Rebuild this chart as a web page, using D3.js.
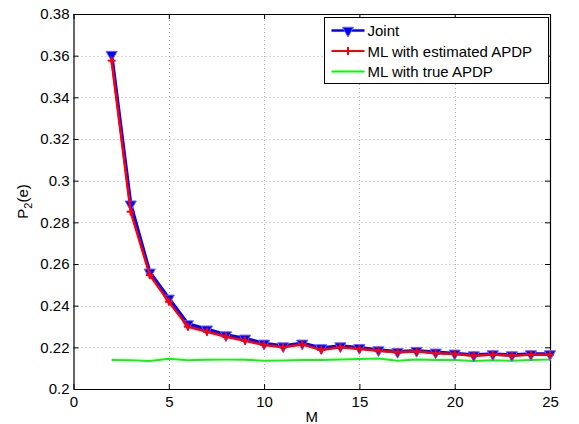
<!DOCTYPE html>
<html>
<head>
<meta charset="utf-8">
<script src="https://cdn.jsdelivr.net/npm/d3@7"></script>
<style>
  body { margin: 0; background: #fff; }
  text { font-family: "Liberation Sans", Arial, sans-serif; }
</style>
</head>
<body>
<div id="chart"></div>
<script>
// chart data
var mValues   = [2, 3, 4, 5, 6, 7, 8, 9, 10, 11, 12, 13, 14, 15, 16, 17, 18, 19, 20, 21, 22, 23, 24, 25];
var jointVals = [0.3605, 0.2887, 0.2560, 0.2435, 0.2312, 0.2287, 0.2259, 0.2243, 0.2219, 0.2206, 0.2219, 0.2197,
                 0.2206, 0.2198, 0.2187, 0.2179, 0.2184, 0.2176, 0.2171, 0.2163, 0.2168, 0.2163, 0.2168, 0.2168];
var mlEstVals = [0.3576, 0.2851, 0.2547, 0.2419, 0.2299, 0.2275, 0.2251, 0.2232, 0.2211, 0.2200, 0.2214, 0.2187,
                 0.2200, 0.2192, 0.2184, 0.2176, 0.2180, 0.2172, 0.2168, 0.2160, 0.2165, 0.2160, 0.2165, 0.2165];
var mlTrueVals = [0.2139, 0.2138, 0.2134, 0.2145, 0.2138, 0.2140, 0.2141, 0.2140, 0.2136, 0.2137, 0.2139, 0.2139,
                  0.2142, 0.2144, 0.2146, 0.2136, 0.2141, 0.2139, 0.2139, 0.2134, 0.2138, 0.2136, 0.2139, 0.2141];
var xTicks = [0, 5, 10, 15, 20, 25];
var yTicks = [0.2, 0.22, 0.24, 0.26, 0.28, 0.3, 0.32, 0.34, 0.36, 0.38];
var legendNames = ["Joint", "ML with estimated APDP", "ML with true APDP"];

var W = 579, H = 424,
    margin = {left: 73.5, right: 29, top: 14, bottom: 35},
    fontSize = 15;

var svg = d3.select("#chart").append("svg")
    .attr("width", W).attr("height", H);

var x = d3.scaleLinear().domain([0, 25]).range([margin.left, W - margin.right]);
var y = d3.scaleLinear().domain([0.2, 0.38]).range([H - margin.bottom, margin.top]);

var x0 = x.range()[0], x1 = x.range()[1], y0 = y.range()[0], y1 = y.range()[1];

// grid (dotted, MATLAB style)
var grid = svg.append("g").attr("stroke", "#b0b0b0").attr("stroke-width", 1)
    .attr("stroke-dasharray", "1,3");
grid.selectAll(".gx").data(xTicks.slice(1, -1)).enter().append("line")
    .attr("x1", function(d){ return Math.round(x(d)) + 0.5; })
    .attr("x2", function(d){ return Math.round(x(d)) + 0.5; })
    .attr("y1", y0).attr("y2", y1);
grid.selectAll(".gy").data(yTicks.slice(1, -1)).enter().append("line")
    .attr("y1", function(d){ return Math.round(y(d)) + 0.5; })
    .attr("y2", function(d){ return Math.round(y(d)) + 0.5; })
    .attr("x1", x0).attr("x2", x1);

// axes, ticks pointing inward on all four sides
var fmtY = function(d){ return d3.format("")(+d.toFixed(2)); };
svg.append("g").attr("transform", "translate(0," + y0 + ")")
    .call(d3.axisBottom(x).tickValues(xTicks).tickSizeInner(-5).tickSizeOuter(0).tickPadding(7));
svg.append("g").attr("transform", "translate(0," + y1 + ")")
    .call(d3.axisTop(x).tickValues(xTicks).tickSizeInner(-5).tickSizeOuter(0).tickFormat(""));
svg.append("g").attr("transform", "translate(" + x0 + ",0)")
    .call(d3.axisLeft(y).tickValues(yTicks).tickSizeInner(-5).tickSizeOuter(0).tickPadding(4).tickFormat(fmtY));
svg.append("g").attr("transform", "translate(" + x1 + ",0)")
    .call(d3.axisRight(y).tickValues(yTicks).tickSizeInner(-5).tickSizeOuter(0).tickFormat(""));

svg.selectAll(".tick text").attr("font-size", fontSize).attr("fill", "#000")
    .style("font-family", "'Liberation Sans', Arial, sans-serif");
svg.selectAll(".domain").attr("stroke", "#000").attr("stroke-width", 1.2);
svg.selectAll(".tick line").attr("stroke", "#000");

// axis labels
svg.append("text").attr("x", (x0 + x1) / 2).attr("y", H - 2)
    .attr("text-anchor", "middle").attr("font-size", fontSize).text("M");
var yl = svg.append("text").attr("transform", "translate(28," + ((y0 + y1) / 2) + ") rotate(-90)")
    .attr("text-anchor", "middle").attr("font-size", fontSize);
yl.append("tspan").text("P");
yl.append("tspan").attr("font-size", 11).attr("dy", 4).text("2");
yl.append("tspan").attr("dy", -4).text("(e)");

// series
var line = d3.line().x(function(d){ return x(d[0]); }).y(function(d){ return y(d[1]); });
var joint = d3.zip(mValues, jointVals),
    mlEst = d3.zip(mValues, mlEstVals),
    mlTrue = d3.zip(mValues, mlTrueVals);

var tri = d3.symbol().type(d3.symbolTriangle).size(55);

svg.append("path").datum(mlTrue).attr("d", line)
    .attr("fill", "none").attr("stroke", "#00ff00").attr("stroke-width", 2);

svg.append("path").datum(joint).attr("d", line)
    .attr("fill", "none").attr("stroke", "#0000ff").attr("stroke-width", 3.5);
svg.selectAll(".tri").data(joint).enter().append("path")
    .attr("d", tri)
    .attr("transform", function(d){ return "translate(" + x(d[0]) + "," + y(d[1]) + ") rotate(180)"; })
    .attr("fill", "#0000ff").attr("stroke", "#6a6aff").attr("stroke-width", 1);

svg.append("path").datum(mlEst).attr("d", line)
    .attr("fill", "none").attr("stroke", "#ff0000").attr("stroke-width", 2.5);
var plus = svg.append("g").attr("stroke", "#ff0000").attr("stroke-width", 2);
plus.selectAll(".ph").data(mlEst).enter().append("line")
    .attr("x1", function(d){ return x(d[0]) - 4; }).attr("x2", function(d){ return x(d[0]) + 4; })
    .attr("y1", function(d){ return y(d[1]); }).attr("y2", function(d){ return y(d[1]); });
plus.selectAll(".pv").data(mlEst).enter().append("line")
    .attr("x1", function(d){ return x(d[0]); }).attr("x2", function(d){ return x(d[0]); })
    .attr("y1", function(d){ return y(d[1]) - 4; }).attr("y2", function(d){ return y(d[1]) + 4; });

// legend
var lg = svg.append("g").attr("transform", "translate(324.5,17.5)");
lg.append("rect").attr("width", 224).attr("height", 66)
    .attr("fill", "#fff").attr("stroke", "#000").attr("stroke-width", 1);
var colors = ["#0000ff", "#ff0000", "#00ff00"];
legendNames.forEach(function(name, i){
    var yy = 13 + i * 20.5;
    lg.append("line").attr("x1", 7).attr("x2", 40).attr("y1", yy).attr("y2", yy)
        .attr("stroke", colors[i]).attr("stroke-width", i === 0 ? 2.5 : 2);
    if (i === 0) {
        lg.append("path").attr("d", tri)
            .attr("transform", "translate(23.5," + yy + ") rotate(180)")
            .attr("fill", "#0000ff").attr("stroke", "#6a6aff");
    } else if (i === 1) {
        lg.append("line").attr("x1", 23.5).attr("x2", 23.5).attr("y1", yy - 4).attr("y2", yy + 4)
            .attr("stroke", "#ff0000").attr("stroke-width", 2);
    }
    lg.append("text").attr("x", 43).attr("y", yy + 5.5).attr("font-size", fontSize).text(name);
});
</script>
</body>
</html>
